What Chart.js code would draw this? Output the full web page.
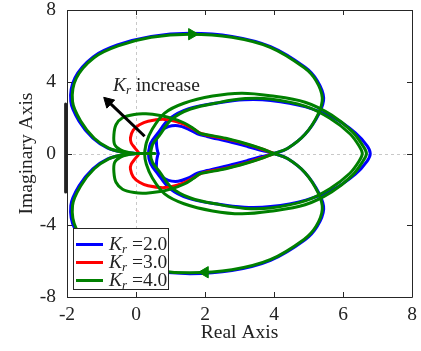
<!DOCTYPE html>
<html>
<head>
<meta charset="utf-8">
<script src="https://cdn.jsdelivr.net/npm/chart.js@4"></script>
<style>
  body { margin: 0; background: #fff; }
  #wrap { position: relative; width: 421px; height: 351px; font-family: "Liberation Serif", serif; color: #222; }
  #plot { position: absolute; left: 0; top: 0; }
  .note { position: absolute; font-size: 19.5px; line-height: 19px; white-space: nowrap; }
  .note sub, .legend sub { font-size: 13px; vertical-align: -3px; line-height: 0; }
  .legend { position: absolute; left: 73px; top: 228px; width: 96px; height: 62px; box-sizing: border-box;
            border: 1px solid #262626; background: #fff; }
  .legend .swatch { position: absolute; left: 2px; width: 27px; height: 3px; }
  .legend .label { position: absolute; left: 35px; font-size: 19.5px; line-height: 19px; white-space: nowrap; }
</style>
</head>
<body>
<div id="wrap">
  <canvas id="plot" width="421" height="351"></canvas>
  <div class="note" style="left:113px; top:75px;"><i>K</i><sub><i>r</i></sub> increase</div>
  <div class="legend">
    <div class="swatch" style="top:14px; background:#0000ff;"></div>
    <div class="label" style="top:5px;"><i>K</i><sub><i>r</i></sub> =2.0</div>
    <div class="swatch" style="top:32px; background:#ff0000;"></div>
    <div class="label" style="top:23px;"><i>K</i><sub><i>r</i></sub> =3.0</div>
    <div class="swatch" style="top:50px; background:#008000;"></div>
    <div class="label" style="top:41px;"><i>K</i><sub><i>r</i></sub> =4.0</div>
  </div>
</div>
<script>
// upper halves (Im >= 0) of the Nyquist curves, lower halves are the mirror image
const loopX = [0.0, -0.39, -0.79, -1.21, -1.6, -1.84, -1.73, -1.21, -0.52, 0.44, 1.56, 2.78, 3.89, 4.87, 5.22, 5.4, 5.28, 4.9, 4.39, 4.0];
const loopY = [0.0, 0.07, 0.3, 0.85, 1.8, 2.9, 4.2, 5.35, 6.0, 6.48, 6.65, 6.48, 5.92, 4.79, 4.06, 3.1, 2.2, 1.07, 0.28, 0.0];

const blueLoopX = [0.0, -0.4, -0.82, -1.25, -1.65, -1.89, -1.77, -1.24, -0.54, 0.44, 1.56, 2.78, 3.9, 4.9, 5.25, 5.44, 5.3, 4.9, 4.39, 4.0];
const blueLoopY = [0.0, 0.08, 0.3, 0.85, 1.8, 2.9, 4.22, 5.39, 6.05, 6.53, 6.7, 6.53, 5.96, 4.81, 4.07, 3.1, 2.2, 1.07, 0.28, 0.0];

const ellipseAX = [0.25, 0.3, 0.47, 0.83, 1.39, 2.22, 3.06, 3.89, 4.9, 5.67, 6.27, 6.58, 6.68];
const ellipseAY = [0.0, 0.6, 1.35, 2.25, 2.8, 3.2, 3.36, 3.22, 2.86, 2.14, 1.22, 0.42, 0.0];

const ellipseBX = [0.42, 0.48, 0.67, 1.03, 1.58, 2.42, 3.17, 3.89, 4.9, 5.62, 6.2, 6.48, 6.56];
const ellipseBY = [0.0, 0.5, 0.98, 1.9, 2.48, 2.85, 3.06, 3.04, 2.64, 1.96, 1.1, 0.38, 0.0];

const blueEllipseX = [0.36, 0.42, 0.62, 0.98, 1.53, 2.36, 3.14, 3.9, 4.92, 5.72, 6.36, 6.7, 6.79];
const blueEllipseY = [0.0, 0.55, 1.1, 1.95, 2.5, 2.82, 3.0, 2.96, 2.6, 2.0, 1.15, 0.42, 0.0];

const greenPetalX = [0.0, -0.2, -0.45, -0.62, -0.64, -0.58, -0.39, -0.05, 0.29, 0.7, 1.03, 1.4, 1.67, 1.86, 2.05, 2.6, 3.17, 3.6, 4.0];
const greenPetalY = [0.0, 0.05, 0.2, 0.5, 1.05, 1.6, 1.99, 2.18, 2.21, 2.12, 1.97, 1.7, 1.38, 1.12, 1.05, 0.85, 0.56, 0.3, 0.0];

const redPetalX = [0.08, -0.03, -0.14, -0.16, -0.08, 0.1, 0.35, 0.83, 1.3, 1.67, 1.86, 2.06, 2.65, 3.2, 3.6, 4.0];
const redPetalY = [0.0, 0.3, 0.6, 0.88, 1.3, 1.6, 1.8, 1.9, 1.7, 1.36, 1.13, 1.02, 0.8, 0.52, 0.28, 0.0];

const blueBulbX = [0.64, 0.6, 0.6, 0.72, 0.94, 1.22, 1.5, 1.78, 2.06, 2.69, 3.25, 3.65, 4.0];
const blueBulbY = [0.0, 0.4, 0.85, 1.25, 1.5, 1.55, 1.38, 1.1, 0.95, 0.66, 0.38, 0.17, 0.0];

const greenTipX = [0.0, 0.55];
const greenTipY = [0.0, 0.0];

// direction arrows on the outer loop and the "Kr increase" arrow
const arrowX = [1.62, 2.0];
const arrowY = [6.65, -6.62];
const krArrowX = [0.25, -0.74];
const krArrowY = [0.96, 2.78];
const krHeadX = [-0.8];
const krHeadY = [2.88];

// thick black bar on the left edge
const barX = [-2.04, -2.04];
const barY = [2.76, -2.14];

const xTicks = [-2, 0, 2, 4, 6, 8];
const yTicks = [-8, -4, 0, 4, 8];

const GREEN = '#008000', RED = '#ff0000', BLUE = '#0000ff';

function pts(xs, ys, sign) {
    return xs.map((v, i) => ({ x: v, y: sign * ys[i] }));
}

// join two point lists that share their end/start point
function join(a, b) {
    return a.concat(b.slice(1));
}

function line(data, color, width) {
    return {
        data: data,
        showLine: true,
        borderColor: color,
        backgroundColor: color,
        borderWidth: width,
        pointRadius: 0,
        tension: 0.35,
        borderJoinStyle: 'round',
        borderCapStyle: 'round'
    };
}

// closed loop crossing the real axis at both ends (upper half, then mirrored lower half)
function closed(xs, ys, color, width) {
    const up = pts(xs, ys, 1);
    const down = pts(xs, ys, -1).reverse();
    return line(join(join(up, down), [up[0], up[1]]), color, width);
}

// outer loop from the cusp, through (4,0), back along the other curve in the other half
function through(loopXs, loopYs, innerXs, innerYs, color, width) {
    const a = join(pts(loopXs, loopYs, 1), pts(innerXs, innerYs, -1).reverse());
    const b = join(pts(loopXs, loopYs, -1), pts(innerXs, innerYs, 1).reverse());
    return [line(a, color, width), line(b, color, width)];
}

const frame = {
    id: 'frame',
    beforeDatasetsDraw(chart) {
        const { ctx, chartArea: a, scales: { x, y } } = chart;
        ctx.save();
        ctx.strokeStyle = '#c8c8c8';
        ctx.lineWidth = 1;
        ctx.setLineDash([3, 3]);
        const x0 = Math.round(x.getPixelForValue(0)) + 0.5;
        const y0 = Math.round(y.getPixelForValue(0)) + 0.5;
        ctx.beginPath();
        ctx.moveTo(x0, a.top); ctx.lineTo(x0, a.bottom);
        ctx.moveTo(a.left, y0); ctx.lineTo(a.right, y0);
        ctx.stroke();
        ctx.restore();
    },
    afterDatasetsDraw(chart) {
        const { ctx, chartArea: a, scales: { x, y } } = chart;
        ctx.save();
        ctx.strokeStyle = '#262626';
        ctx.lineWidth = 1;
        ctx.beginPath();
        ctx.rect(Math.round(a.left) + 0.5, Math.round(a.top) + 0.5,
                 Math.round(a.right - a.left), Math.round(a.bottom - a.top));
        xTicks.forEach(v => {
            const p = Math.round(x.getPixelForValue(v)) + 0.5;
            ctx.moveTo(p, a.bottom); ctx.lineTo(p, a.bottom - 5);
            ctx.moveTo(p, a.top); ctx.lineTo(p, a.top + 5);
        });
        yTicks.forEach(v => {
            const p = Math.round(y.getPixelForValue(v)) + 0.5;
            ctx.moveTo(a.left, p); ctx.lineTo(a.left + 5, p);
            ctx.moveTo(a.right, p); ctx.lineTo(a.right - 5, p);
        });
        ctx.stroke();
        ctx.restore();
    }
};

Chart.defaults.font.family = '"Liberation Serif", serif';
Chart.defaults.font.size = 19.5;
Chart.defaults.color = '#222';

// first dataset is drawn on top
const datasets = [
    Object.assign(line(pts(krArrowX, krArrowY, 1), '#000', 3), { tension: 0, borderCapStyle: 'butt' }),
    {
        data: pts(krHeadX, krHeadY, 1),
        pointStyle: 'triangle', pointRadius: 6.5, pointRotation: -46,
        backgroundColor: '#000', borderColor: '#000', borderWidth: 1
    },
    {
        data: pts(arrowX, arrowY, 1),
        pointStyle: 'triangle', pointRadius: 6.5, pointRotation: [90, -90],
        backgroundColor: GREEN, borderColor: GREEN, borderWidth: 1
    },
    Object.assign(line(pts(barX, barY, 1), '#222', 3), { tension: 0, clip: false, borderCapStyle: 'butt' }),
    line(pts(greenTipX, greenTipY, 1), GREEN, 3),
    ...through(loopX, loopY, greenPetalX, greenPetalY, GREEN, 3),
    closed(ellipseAX, ellipseAY, GREEN, 3),
    closed(ellipseBX, ellipseBY, GREEN, 3),
    line(join(pts(redPetalX, redPetalY, -1).reverse(), pts(redPetalX, redPetalY, 1)), RED, 3),
    ...through(blueLoopX, blueLoopY, blueBulbX, blueBulbY, BLUE, 3),
    closed(blueEllipseX, blueEllipseY, BLUE, 3)
];

new Chart(document.getElementById('plot'), {
    type: 'scatter',
    data: { datasets: datasets },
    options: {
        responsive: false,
        animation: false,
        events: [],
        layout: { autoPadding: false, padding: { top: 10, right: 9, left: 0, bottom: 0 } },
        plugins: { legend: { display: false }, tooltip: { enabled: false } },
        scales: {
            x: {
                type: 'linear', min: -2, max: 8,
                afterFit(scale) { scale.height = 54; scale.paddingLeft = 0; scale.paddingRight = 0; },
                afterBuildTicks(scale) { scale.ticks = xTicks.map(v => ({ value: v })); },
                ticks: { padding: 6, color: '#222' },
                grid: { display: false, drawTicks: false },
                border: { display: false },
                title: { display: true, text: 'Real Axis', color: '#222', padding: { top: 0, bottom: 6 } }
            },
            y: {
                type: 'linear', min: -8, max: 8,
                afterFit(scale) { scale.width = 67; scale.paddingTop = 0; scale.paddingBottom = 0; },
                afterBuildTicks(scale) { scale.ticks = yTicks.map(v => ({ value: v })); },
                ticks: { padding: 11, color: '#222' },
                grid: { display: false, drawTicks: false },
                border: { display: false },
                title: { display: true, text: 'Imaginary Axis', color: '#222', padding: { top: 15, bottom: 0 } }
            }
        }
    },
    plugins: [frame]
});
</script>
</body>
</html>
